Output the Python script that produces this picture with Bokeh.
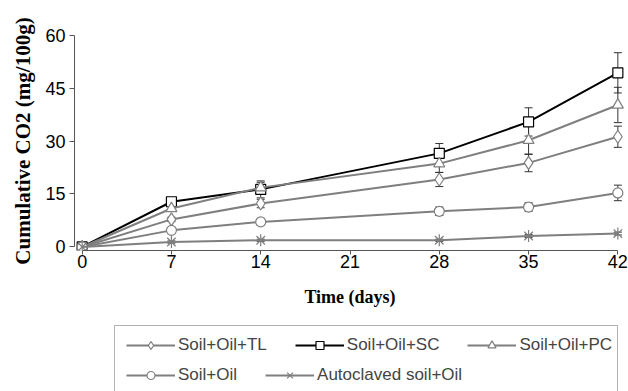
from bokeh.plotting import figure
from bokeh.layouts import column
from bokeh.models import (ColumnDataSource, Legend, LegendItem, FixedTicker,
                          Range1d, Whisker, TeeHead, BoxAnnotation)
from bokeh.embed import file_html
from bokeh.resources import INLINE
import math

days = [0, 7, 14, 28, 35, 42]
tl = [0, 7.8, 12.3, 19.1, 23.8, 31.2]
sc = [0, 12.8, 16.3, 26.5, 35.4, 49.3]
pc = [0, 10.9, 16.8, 23.6, 30.2, 40.2]
so = [0, 4.7, 7.1, 10.1, 11.3, 15.3]
ac = [0, 1.4, 1.9, 1.9, 3.1, 3.8]

tl_err = [0, 0.6, 1.2, 2.0, 2.5, 3.0]
sc_err = [0, 0.8, 2.4, 2.8, 4.0, 5.7]
pc_err = [0, 0.8, 1.5, 2.5, 4.0, 5.0]
so_err = [0, 0.5, 1.0, 1.2, 1.2, 2.2]
ac_err = [0, 0.3, 0.3, 0.3, 0.4, 0.4]

x_ticks = [0, 7, 14, 21, 28, 35, 42]
y_ticks = [0, 15, 30, 45, 60]

labels = ["Soil+Oil+TL", "Soil+Oil+SC", "Soil+Oil+PC", "Soil+Oil", "Autoclaved soil+Oil"]

BL, BR = 74, 3
p = figure(width=628, height=318, output_backend="svg", toolbar_location=None,
           x_range=Range1d(-0.6, 42.6), y_range=Range1d(-1, 61),
           min_border_left=BL, min_border_right=BR, min_border_top=31,
           min_border_bottom=68)
p.outline_line_color = None
p.xgrid.visible = False
p.ygrid.visible = False
p.background_fill_color = "white"
p.border_fill_color = "white"

for ax in (p.xaxis[0], p.yaxis[0]):
    ax.axis_line_color = "#555555"
    ax.major_tick_line_color = "#555555"
    ax.minor_tick_line_color = None
    ax.major_tick_in = 0
    ax.major_label_text_font = "Liberation Sans"
    ax.major_label_text_font_size = "18px"
    ax.major_label_text_color = "black"
    ax.axis_label_text_font = "Liberation Serif"
    ax.axis_label_text_font_style = "bold"
    ax.axis_label_text_color = "black"

p.xaxis[0].ticker = FixedTicker(ticks=x_ticks)
p.xaxis[0].bounds = (0, 42)
p.xaxis[0].major_tick_out = 4
p.xaxis[0].major_label_standoff = 0
p.xaxis[0].axis_label = "Time (days)"
p.xaxis[0].axis_label_text_font_size = "18px"
p.xaxis[0].axis_label_standoff = 16

p.yaxis[0].ticker = FixedTicker(ticks=y_ticks)
p.yaxis[0].bounds = (0, 60)
p.yaxis[0].major_tick_out = 5
p.yaxis[0].major_label_standoff = 4
p.yaxis[0].axis_label = "Cumulative CO2 (mg/100g)"
p.yaxis[0].axis_label_text_font_size = "21px"
p.yaxis[0].axis_label_standoff = 7

gray = "#7f7f7f"
series = [
    (tl, tl_err, gray, "diamond", 13),
    (sc, sc_err, "black", "square", 10),
    (pc, pc_err, gray, "triangle", 11),
    (so, so_err, gray, "circle", 10),
    (ac, ac_err, gray, "x", 12),
]

# legend-only strip below the chart; its ranges follow page pixels
lg = figure(width=628, height=73, output_backend="svg", toolbar_location=None,
            x_range=Range1d(BL, 628 - BR), y_range=Range1d(391, 318),
            min_border_left=BL, min_border_right=BR, min_border_top=0,
            min_border_bottom=0)
lg.axis.visible = False
lg.grid.visible = False
lg.outline_line_color = None
lg.background_fill_color = "white"
lg.border_fill_color = "white"
lg.add_layout(BoxAnnotation(left=114, right=617, top=325, bottom=400,
                            fill_alpha=0, line_color="black", line_width=1))

items = []
for (vals, err, col, mk, sz), lab in zip(series, labels):
    src = ColumnDataSource(dict(x=days, y=vals,
                                lo=[v - e for v, e in zip(vals, err)],
                                hi=[v + e for v, e in zip(vals, err)]))
    w = Whisker(source=src, base="x", upper="hi", lower="lo", dimension="height",
                line_color="#333333", line_width=1,
                upper_head=TeeHead(size=8, line_color="#333333", line_width=1),
                lower_head=TeeHead(size=8, line_color="#333333", line_width=1))
    p.add_layout(w)
    p.line("x", "y", source=src, line_color=col, line_width=2)
    p.scatter("x", "y", source=src, marker=mk, size=sz,
              fill_color="white", line_color=col, line_width=1.2)
    if mk == "x":
        p.scatter("x", "y", source=src, marker="dash", size=sz, angle=math.pi / 2,
                  line_color=col, line_width=1.2)
    # legend proxies (same data, out of view in the legend strip)
    l2 = lg.line("x", "y", source=src, line_color=col, line_width=2)
    s2 = lg.scatter("x", "y", source=src, marker=mk, size=sz - 2,
                    fill_color="white", line_color=col, line_width=1.2)
    rends = [l2, s2]
    if mk == "x":
        d2 = lg.scatter("x", "y", source=src, marker="dash", size=sz - 2,
                        angle=math.pi / 2, line_color=col, line_width=1.2)
        rends.append(d2)
    items.append(LegendItem(label=lab, renderers=rends))

common = dict(orientation="horizontal",
              label_text_font="Liberation Sans", label_text_font_size="17px",
              glyph_width=49, glyph_height=20, label_height=20, label_standoff=3,
              spacing=28, padding=0, margin=0, border_line_color=None,
              background_fill_alpha=0.0)
leg1 = Legend(items=items[:3], location=(52, 36), **common)
leg2 = Legend(items=items[3:], location=(52, 6), **common)
lg.add_layout(leg1, "center")
lg.add_layout(leg2, "center")

layout = column(p, lg, spacing=0)
open("out.html", "w").write(file_html(layout, INLINE))
